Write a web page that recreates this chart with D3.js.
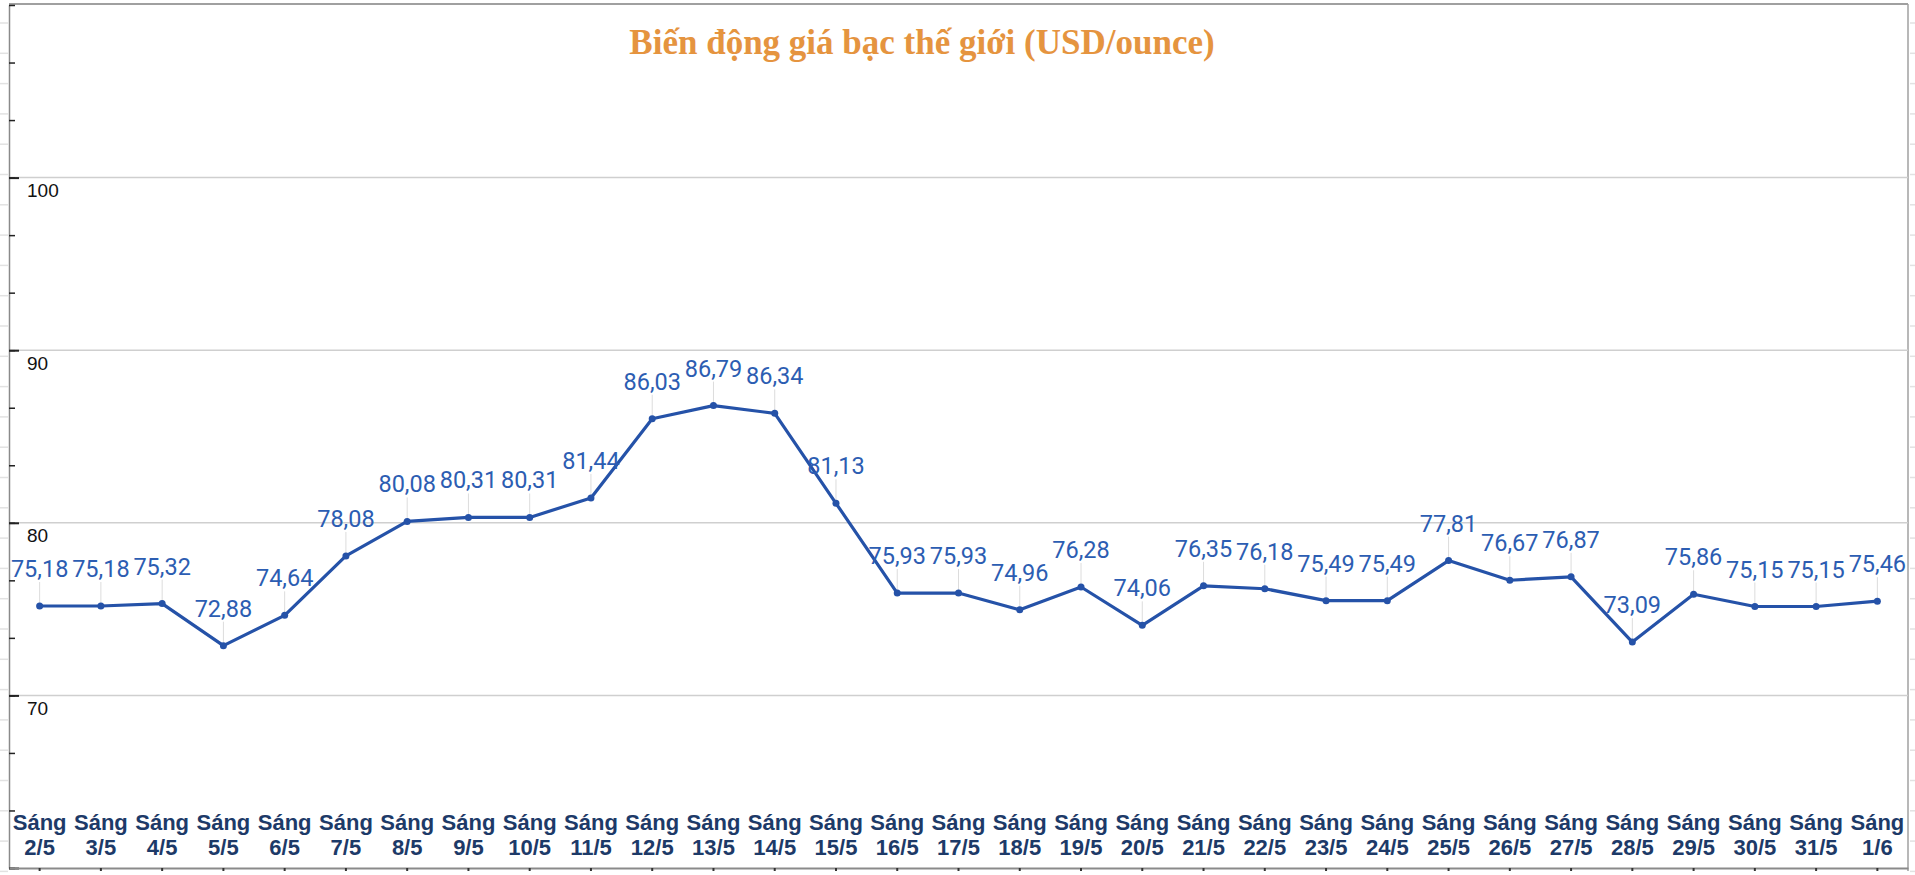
<!DOCTYPE html>
<html>
<head>
<meta charset="utf-8">
<script src="https://cdn.jsdelivr.net/npm/d3@7"></script>
<style>
  body { margin: 0; background: #fff; }
  svg { display: block; }
</style>
</head>
<body>
<svg id="chart" width="1915" height="875"></svg>
<script>
// data
const days = ["2/5", "3/5", "4/5", "5/5", "6/5", "7/5", "8/5", "9/5", "10/5", "11/5",
    "12/5", "13/5", "14/5", "15/5", "16/5", "17/5", "18/5", "19/5", "20/5", "21/5",
    "22/5", "23/5", "24/5", "25/5", "26/5", "27/5", "28/5", "29/5", "30/5", "31/5", "1/6"];
const prices = [75.18, 75.18, 75.32, 72.88, 74.64, 78.08, 80.08, 80.31, 80.31, 81.44,
    86.03, 86.79, 86.34, 81.13, 75.93, 75.93, 74.96, 76.28, 74.06, 76.35,
    76.18, 75.49, 75.49, 77.81, 76.67, 76.87, 73.09, 75.86, 75.15, 75.15, 75.46];
const yTicks = [70, 80, 90, 100];
const titleText = "Biến động giá bạc thế giới (USD/ounce)";
const dayPrefix = "Sáng";

const data = days.map(function (d, i) { return { day: d, price: prices[i] }; });

const svg = d3.select("#chart");
const plotLeft = 9, plotRight = 1908, plotTop = 5, plotBottom = 868;

const xScale = d3.scaleBand().domain(days).range([plotLeft, plotRight]);
const yScale = d3.scaleLinear().domain([60, 110]).range([plotBottom, plotTop]);
const cx = function (d) { return xScale(d) + xScale.bandwidth() / 2; };

// spreadsheet rows peeking out on both sides
d3.range(23, 875, 30.3).forEach(function (yy) {
    svg.append("line").attr("x1", 0).attr("x2", plotLeft - 1).attr("y1", yy).attr("y2", yy)
        .attr("stroke", "#e2e2e2").attr("stroke-width", 1.5);
    svg.append("line").attr("x1", plotRight + 2).attr("x2", 1915).attr("y1", yy).attr("y2", yy)
        .attr("stroke", "#e2e2e2").attr("stroke-width", 1.5);
});

// frame
svg.append("line").attr("x1", plotLeft).attr("x2", plotRight).attr("y1", 4).attr("y2", 4)
    .attr("stroke", "#a0a0a0").attr("stroke-width", 2);
svg.append("line").attr("x1", plotRight).attr("x2", plotRight).attr("y1", 4).attr("y2", plotBottom + 3)
    .attr("stroke", "#a0a0a0").attr("stroke-width", 1.5);

// gridlines
svg.append("g").selectAll("line")
    .data(yTicks)
    .enter().append("line")
    .attr("x1", plotLeft).attr("x2", plotRight)
    .attr("y1", function (d) { return yScale(d); })
    .attr("y2", function (d) { return yScale(d); })
    .attr("stroke", "#cfcfcf")
    .attr("stroke-width", 1.5);

// y axis: minor ticks
const minorAxis = d3.axisRight(yScale)
    .tickValues(d3.range(60, 110.01, 10 / 3))
    .tickSize(6)
    .tickSizeOuter(0)
    .tickFormat("");
svg.append("g")
    .attr("transform", "translate(" + plotLeft + ",0)")
    .call(minorAxis)
    .call(function (g) {
        g.select(".domain").attr("stroke", "#8a8a8a").attr("stroke-width", 1.5);
        g.selectAll(".tick line").attr("stroke", "#222").attr("stroke-width", 1.5);
    });

// y axis: major ticks with labels under the gridline
const majorAxis = d3.axisRight(yScale)
    .tickValues([60].concat(yTicks))
    .tickSize(10)
    .tickPadding(8)
    .tickFormat(function (d) { return d === 60 ? "" : d; });
svg.append("g")
    .attr("transform", "translate(" + plotLeft + ",0)")
    .call(majorAxis)
    .call(function (g) {
        g.select(".domain").remove();
        g.selectAll(".tick line").attr("stroke", "#222").attr("stroke-width", 2);
        g.selectAll(".tick text")
            .attr("dy", "1em")
            .attr("fill", "#111")
            .style("font-family", "'Liberation Sans', Arial, sans-serif")
            .style("font-size", "19px");
    });

// x axis
const xAxis = d3.axisBottom(xScale).tickSize(3).tickSizeOuter(0).tickFormat("");
svg.append("g")
    .attr("transform", "translate(0," + plotBottom + ")")
    .call(xAxis)
    .call(function (g) {
        g.select(".domain").attr("stroke", "#8a8a8a").attr("stroke-width", 2);
        g.selectAll(".tick line").attr("stroke", "#333").attr("stroke-width", 2);
        g.selectAll(".tick text").remove();
        const t = g.selectAll(".tick").append("text")
            .attr("text-anchor", "middle")
            .attr("fill", "#1d3a68")
            .style("font-family", "'Liberation Sans', Arial, sans-serif")
            .style("font-size", "22px")
            .style("font-weight", "bold");
        t.append("tspan").attr("x", 0).attr("y", -38).text(dayPrefix);
        t.append("tspan").attr("x", 0).attr("y", -13).text(function (d) { return d; });
    });

// leader lines from labels to points
svg.append("g").selectAll("line")
    .data(data)
    .enter().append("line")
    .attr("x1", function (d) { return cx(d.day); })
    .attr("x2", function (d) { return cx(d.day); })
    .attr("y1", function (d) { return yScale(d.price) - 24; })
    .attr("y2", function (d) { return yScale(d.price) - 3; })
    .attr("stroke", "#dcdcdc")
    .attr("stroke-width", 1);

// price line
const line = d3.line()
    .x(function (d) { return cx(d.day); })
    .y(function (d) { return yScale(d.price); });

svg.append("path")
    .datum(data)
    .attr("d", line)
    .attr("fill", "none")
    .attr("stroke", "#2552a8")
    .attr("stroke-width", 3.2)
    .attr("stroke-linejoin", "round");

svg.append("g").selectAll("circle")
    .data(data)
    .enter().append("circle")
    .attr("cx", function (d) { return cx(d.day); })
    .attr("cy", function (d) { return yScale(d.price); })
    .attr("r", 3.5)
    .attr("fill", "#2552a8");

// value labels
svg.append("g").selectAll("text")
    .data(data)
    .enter().append("text")
    .attr("x", function (d) { return cx(d.day); })
    .attr("y", function (d) { return yScale(d.price) - 29; })
    .attr("text-anchor", "middle")
    .attr("fill", "#2c5db2")
    .style("font-family", "Roboto, 'Liberation Sans', sans-serif")
    .style("font-size", "23.5px")
    .text(function (d) { return d.price.toFixed(2).replace(".", ","); });

// title
svg.append("text")
    .attr("x", 922)
    .attr("y", 54)
    .attr("text-anchor", "middle")
    .attr("fill", "#e5943f")
    .style("font-family", "'Liberation Serif', 'Times New Roman', serif")
    .style("font-size", "35px")
    .style("font-weight", "bold")
    .text(titleText);
</script>
</body>
</html>
